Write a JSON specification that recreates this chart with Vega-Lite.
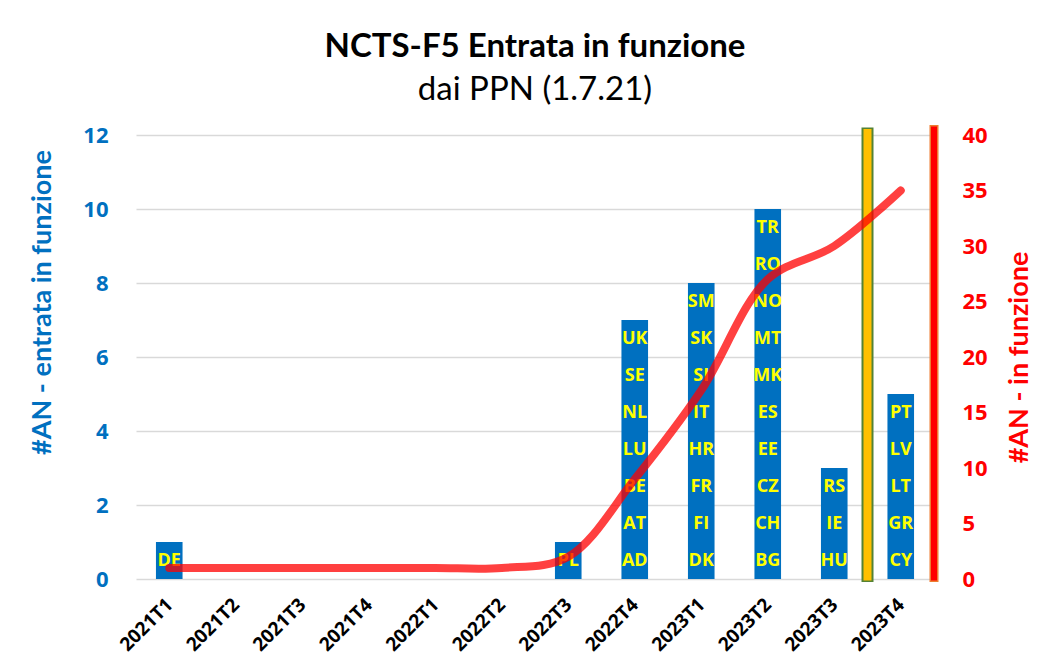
{
  "$schema": "https://vega.github.io/schema/vega-lite/v6.json",
  "autosize": "none",
  "width": 798,
  "height": 444,
  "padding": {"left": 136, "top": 135, "right": 116, "bottom": 80},
  "background": "white",
  "config": {"view": {"stroke": null}},
  "title": {
    "text": "NCTS-F5 Entrata in funzione",
    "subtitle": "dai PPN (1.7.21)",
    "anchor": "middle",
    "frame": "group",
    "font": "Lato",
    "fontSize": 33,
    "fontWeight": "bold",
    "color": "black",
    "subtitleFont": "Lato",
    "subtitleFontSize": 33,
    "subtitleColor": "black",
    "subtitlePadding": 10,
    "offset": 14
  },
  "datasets": {
    "quarters": [
      {"q": "2021T1", "tot": 1}, {"q": "2021T2", "tot": 1}, {"q": "2021T3", "tot": 1}, {"q": "2021T4", "tot": 1},
      {"q": "2022T1", "tot": 1}, {"q": "2022T2", "tot": 1}, {"q": "2022T3", "tot": 2}, {"q": "2022T4", "tot": 9},
      {"q": "2023T1", "tot": 17}, {"q": "2023T2", "tot": 27}, {"q": "2023T3", "tot": 30}, {"q": "2023T4", "tot": 35}
    ],
    "countries": [
      {"q": "2021T1", "c": "DE", "n": 1},
      {"q": "2022T3", "c": "PL", "n": 1},
      {"q": "2022T4", "c": "AD", "n": 1}, {"q": "2022T4", "c": "AT", "n": 1}, {"q": "2022T4", "c": "BE", "n": 1},
      {"q": "2022T4", "c": "LU", "n": 1}, {"q": "2022T4", "c": "NL", "n": 1}, {"q": "2022T4", "c": "SE", "n": 1},
      {"q": "2022T4", "c": "UK", "n": 1},
      {"q": "2023T1", "c": "DK", "n": 1}, {"q": "2023T1", "c": "FI", "n": 1}, {"q": "2023T1", "c": "FR", "n": 1},
      {"q": "2023T1", "c": "HR", "n": 1}, {"q": "2023T1", "c": "IT", "n": 1}, {"q": "2023T1", "c": "SI", "n": 1},
      {"q": "2023T1", "c": "SK", "n": 1}, {"q": "2023T1", "c": "SM", "n": 1},
      {"q": "2023T2", "c": "BG", "n": 1}, {"q": "2023T2", "c": "CH", "n": 1}, {"q": "2023T2", "c": "CZ", "n": 1},
      {"q": "2023T2", "c": "EE", "n": 1}, {"q": "2023T2", "c": "ES", "n": 1}, {"q": "2023T2", "c": "MK", "n": 1},
      {"q": "2023T2", "c": "MT", "n": 1}, {"q": "2023T2", "c": "NO", "n": 1}, {"q": "2023T2", "c": "RO", "n": 1},
      {"q": "2023T2", "c": "TR", "n": 1},
      {"q": "2023T3", "c": "HU", "n": 1}, {"q": "2023T3", "c": "IE", "n": 1}, {"q": "2023T3", "c": "RS", "n": 1},
      {"q": "2023T4", "c": "CY", "n": 1}, {"q": "2023T4", "c": "GR", "n": 1}, {"q": "2023T4", "c": "LT", "n": 1},
      {"q": "2023T4", "c": "LV", "n": 1}, {"q": "2023T4", "c": "PT", "n": 1}
    ],
    "markerLeft": [{"q": "2023T3", "lo": 0, "hi": 12.2}],
    "markerRight": [{"q": "2023T4", "lo": 0, "hi": 40.9}]
  },
  "encoding": {
    "x": {
      "field": "q",
      "type": "ordinal",
      "scale": {
        "domain": ["2021T1", "2021T2", "2021T3", "2021T4", "2022T1", "2022T2", "2022T3", "2022T4", "2023T1", "2023T2", "2023T3", "2023T4"],
        "paddingInner": 0,
        "paddingOuter": 0
      },
      "axis": {
        "title": null,
        "labelAngle": -45,
        "labelFont": "Open Sans",
        "labelFontSize": 19,
        "labelFontWeight": "bold",
        "labelColor": "black",
        "labelPadding": 16,
        "labelOffset": -6,
        "ticks": false,
        "domain": false
      }
    }
  },
  "layer": [
    {
      "layer": [
        {
          "data": {"name": "countries"},
          "mark": {"type": "bar", "color": "#0070C0", "width": {"band": 0.4}},
          "encoding": {
            "y": {
              "field": "n",
              "type": "quantitative",
              "aggregate": "sum",
              "stack": "zero",
              "scale": {"domain": [0, 12]},
              "axis": {
                "orient": "left",
                "title": "#AN - entrata in funzione",
                "titleFont": "Lato",
                "titleFontSize": 27,
                "titleFontWeight": "bold",
                "titleColor": "#0070C0",
                "titleAngle": 270,
                "titleBaseline": "middle",
                "titleAlign": "center",
                "titleX": -94,
                "titleY": 167,
                "values": [0, 2, 4, 6, 8, 10, 12],
                "labelFont": "Open Sans",
                "labelFontSize": 22,
                "labelFontWeight": "bold",
                "labelColor": "#0070C0",
                "labelPadding": 28,
                "ticks": false,
                "domain": false,
                "grid": true,
                "gridColor": "#D9D9D9",
                "gridWidth": 1.5
              }
            },
            "detail": {"field": "c"},
            "order": {"field": "c", "sort": "ascending"}
          }
        },
        {
          "data": {"name": "countries"},
          "mark": {"type": "text", "color": "#FFFF00", "font": "Open Sans", "fontSize": 18, "fontWeight": "bold", "baseline": "middle", "align": "center", "dy": 18.5},
          "encoding": {
            "y": {"field": "n", "type": "quantitative", "aggregate": "sum", "stack": "zero", "scale": {"domain": [0, 12]}},
            "detail": {"field": "c"},
            "order": {"field": "c", "sort": "ascending"},
            "text": {"field": "c"}
          }
        },
        {
          "data": {"name": "markerLeft"},
          "mark": {"type": "rule", "color": "#548235", "strokeWidth": 12, "yOffset": 3},
          "encoding": {
            "x": {"field": "q", "type": "ordinal", "bandPosition": 1},
            "y": {"field": "lo", "type": "quantitative", "scale": {"domain": [0, 12]}},
            "y2": {"field": "hi"}
          }
        },
        {
          "data": {"name": "markerLeft"},
          "mark": {"type": "rule", "color": "#FFC000", "strokeWidth": 8, "yOffset": 1.5, "y2Offset": 1.5},
          "encoding": {
            "x": {"field": "q", "type": "ordinal", "bandPosition": 1},
            "y": {"field": "lo", "type": "quantitative", "scale": {"domain": [0, 12]}},
            "y2": {"field": "hi"}
          }
        }
      ]
    },
    {
      "layer": [
        {
          "data": {"name": "quarters"},
          "mark": {"type": "line", "color": "#FF0000", "opacity": 0.75, "strokeWidth": 8, "interpolate": "catmull-rom", "strokeCap": "round", "strokeJoin": "round"},
          "encoding": {
            "y": {
              "field": "tot",
              "type": "quantitative",
              "scale": {"domain": [0, 40]},
              "axis": {
                "orient": "right",
                "title": "#AN - in funzione",
                "titleFont": "Lato",
                "titleFontSize": 27,
                "titleFontWeight": "bold",
                "titleColor": "#FF0000",
                "titleAngle": 270,
                "titleBaseline": "middle",
                "titleAlign": "center",
                "titleX": 85,
                "titleY": 222,
                "values": [0, 5, 10, 15, 20, 25, 30, 35, 40],
                "labelFont": "Open Sans",
                "labelFontSize": 22,
                "labelFontWeight": "bold",
                "labelColor": "#FF0000",
                "labelPadding": 28,
                "ticks": false,
                "domain": false,
                "grid": false
              }
            }
          }
        },
        {
          "data": {"name": "markerRight"},
          "mark": {"type": "rule", "color": "#ED7D31", "strokeWidth": 9, "yOffset": 3},
          "encoding": {
            "x": {"field": "q", "type": "ordinal", "bandPosition": 1},
            "y": {"field": "lo", "type": "quantitative", "scale": {"domain": [0, 40]}},
            "y2": {"field": "hi"}
          }
        },
        {
          "data": {"name": "markerRight"},
          "mark": {"type": "rule", "color": "#FF0000", "strokeWidth": 6, "yOffset": 1.5, "y2Offset": 1.5},
          "encoding": {
            "x": {"field": "q", "type": "ordinal", "bandPosition": 1},
            "y": {"field": "lo", "type": "quantitative", "scale": {"domain": [0, 40]}},
            "y2": {"field": "hi"}
          }
        }
      ]
    }
  ],
  "resolve": {"scale": {"y": "independent"}, "axis": {"y": "independent"}}
}
